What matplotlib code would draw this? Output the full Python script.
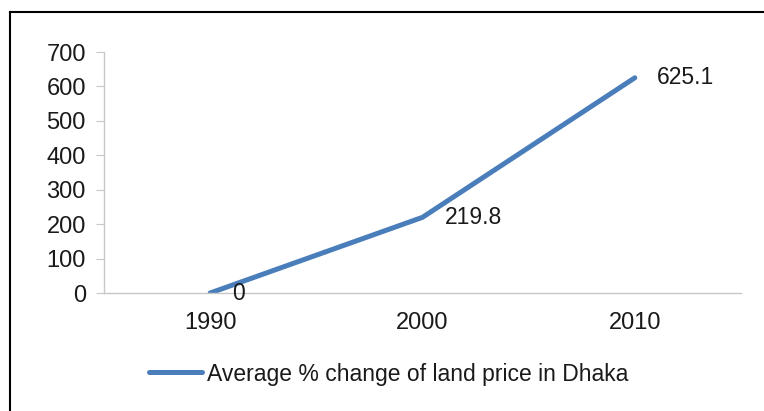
import matplotlib.pyplot as plt
from matplotlib.lines import Line2D

years = ["1990", "2000", "2010"]
values = [0, 219.8, 625.1]
labels = ["0", "219.8", "625.1"]
series_name = "Average % change of land price in Dhaka"

plt.rcParams['font.family'] = ['Liberation Sans', 'DejaVu Sans']

W, H = 764, 411
fig = plt.figure(figsize=(W / 100, H / 100), dpi=100)

# outer chart frame (only top and left edges visible in the crop)
fig.add_artist(Line2D([9.5 / W, 9.5 / W], [0, 1 - 12.5 / H], color="black", lw=1.5))
fig.add_artist(Line2D([9.5 / W, 1], [1 - 12.5 / H, 1 - 12.5 / H], color="black", lw=1.5))

ax = fig.add_axes([104 / W, (H - 293) / H, 637 / W, (293 - 52) / H])
x = range(len(years))
line, = ax.plot(x, values, color="#4a7ebb", lw=3.6, solid_capstyle="round")

for xi, v, lab in zip(x, values, labels):
    ax.annotate(lab, (xi, v), xytext=(16, 0), textcoords="offset points",
                ha="left", va="center", fontsize=16.5, color="#1a1a1a")

ax.set_xlim(-0.5, 2.5)
ax.set_ylim(0, 700)
ax.set_yticks(range(0, 701, 100))
ax.set_xticks(list(x))
ax.set_xticklabels(years)

for s in ["top", "right"]:
    ax.spines[s].set_visible(False)
for s in ["left", "bottom"]:
    ax.spines[s].set_color("#c8c8c8")
    ax.spines[s].set_linewidth(1)
ax.tick_params(axis="y", length=6, color="#c8c8c8", labelsize=17, labelcolor="#1a1a1a", pad=7)
ax.tick_params(axis="x", length=0, labelsize=17, labelcolor="#1a1a1a", pad=14)

fig.legend([line], [series_name], loc="center left",
           bbox_to_anchor=(149 / W, 1 - 374 / H), frameon=False, fontsize=16.5,
           handlelength=2.3, handletextpad=0.25, borderpad=0, borderaxespad=0,
           labelcolor="#1a1a1a")

fig.savefig("out.png", dpi=100)
